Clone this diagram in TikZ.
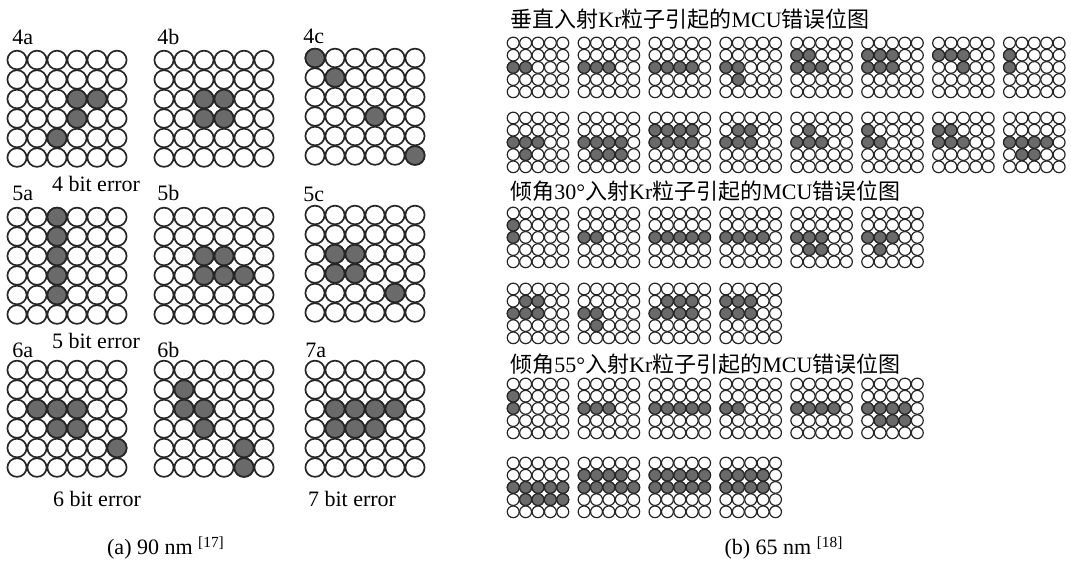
\documentclass[tikz,border=0pt]{standalone}
\usepackage{fontspec}
\setmainfont{Liberation Serif}
\newfontfamily\cjk{Noto Sans CJK SC}
\usepackage{tikz}
\usetikzlibrary{positioning}
\definecolor{errgray}{RGB}{106,106,106}
% one bit map: x, y of first cell, size, x pitch, y pitch, upset cells (row/col)
\newcommand{\mcugrid}[6]{%
  \foreach \r in {1,...,#3}
    \foreach \k in {1,...,#3}
      \draw[bitcell] ({#1+(\k-1)*#4},{#2+(\r-1)*#5}) ellipse[x radius=0.24pt*#4,y radius=0.24pt*#5];
  \foreach \r/\k in {#6}
    \draw[errbit] ({#1+(\k-1)*#4},{#2+(\r-1)*#5}) ellipse[x radius=0.24pt*#4,y radius=0.24pt*#5];
}
\begin{document}
\begin{tikzpicture}[x=0.5pt,y=-0.5pt,
bitcell/.style={draw=black!85,fill=white},
errbit/.style={draw=black!85,fill=errgray},
lbl/.style={font=\fontsize{11}{13}\selectfont,inner sep=0pt},
captext/.style={font=\fontsize{11}{13}\selectfont,inner sep=0pt}]
\useasboundingbox (0,0) rectangle (1071,564);
% (a) 90 nm
\begin{scope}[line width=0.85pt]
\mcugrid{17}{60}{6}{20}{19.5}{3/4,3/5,4/4,5/3}
\mcugrid{164}{60}{6}{20}{19.5}{3/3,3/4,4/3,4/4}
\mcugrid{315}{58}{6}{20}{19.5}{1/1,2/2,4/4,6/6}
\mcugrid{17}{217}{6}{20}{19.5}{1/3,2/3,3/3,4/3,5/3}
\mcugrid{164}{217}{6}{20}{19.5}{3/3,3/4,4/3,4/4,4/5}
\mcugrid{315}{215}{6}{20}{19.5}{3/2,3/3,4/2,4/3,5/5}
\mcugrid{17}{370}{6}{20}{19.5}{3/2,3/3,3/4,4/3,4/4,5/6}
\mcugrid{164}{370}{6}{20}{19.5}{2/2,3/2,3/3,4/3,5/5,6/5}
\mcugrid{315}{370}{6}{20}{19.5}{3/2,3/3,3/4,3/5,4/2,4/3,4/4}
\end{scope}
\node[lbl,anchor=west](l4a) at (12,37){4a};
\node[lbl,anchor=west](l4b) at (157,37){4b};
\node[lbl,anchor=west](l4c) at (303,36){4c};
\node[lbl,anchor=west](l5a) at (12,193){5a};
\node[lbl,anchor=west](l5b) at (157,193){5b};
\node[lbl,anchor=west](l5c) at (303,194){5c};
\node[lbl,anchor=west](l6a) at (12,350){6a};
\node[lbl,anchor=west](l6b) at (157,350){6b};
\node[lbl,anchor=west](l7a) at (305,350){7a};
\node[lbl](e4) at (96,184){4 bit error};
\node[lbl](e5) at (96,341){5 bit error};
\node[lbl](e6) at (97,499){6 bit error};
\node[lbl](e7) at (352,499){7 bit error};
\node[captext](capa) at (166,548){(a) 90 nm \textsuperscript{[17]}};
% (b) 65 nm
\node[lbl,anchor=west](t0) at (510,19){{\cjk 垂直入射}Kr{\cjk 粒子引起的}MCU{\cjk 错误位图}};
\node[lbl,anchor=west](t30) at (510,191){{\cjk 倾角}30°{\cjk 入射}Kr{\cjk 粒子引起的}MCU{\cjk 错误位图}};
\node[lbl,anchor=west](t55) at (510,364){{\cjk 倾角}55°{\cjk 入射}Kr{\cjk 粒子引起的}MCU{\cjk 错误位图}};
\begin{scope}[line width=0.6pt]
% normal incidence
\mcugrid{513.2}{43}{5}{12.4}{12.2}{3/1,3/2}
\mcugrid{584.1}{43}{5}{12.4}{12.2}{3/1,3/2,3/3}
\mcugrid{655.0}{43}{5}{12.4}{12.2}{3/1,3/2,3/3,3/4}
\mcugrid{725.9}{43}{5}{12.4}{12.2}{3/1,3/2,4/2}
\mcugrid{796.8}{43}{5}{12.4}{12.2}{2/1,2/2,3/1,3/2,3/3}
\mcugrid{867.7}{43}{5}{12.4}{12.2}{2/1,2/2,2/3,3/1,3/2,3/3}
\mcugrid{938.6}{43}{5}{12.4}{12.2}{2/1,2/2,2/3,3/3}
\mcugrid{1009.5}{43}{5}{12.4}{12.2}{2/1,3/1}
\mcugrid{513.2}{118}{5}{12.4}{12.2}{3/1,3/2,3/3,4/2}
\mcugrid{584.1}{118}{5}{12.4}{12.2}{3/1,3/2,3/3,3/4,4/2,4/3,4/4}
\mcugrid{655.0}{118}{5}{12.4}{12.2}{2/1,2/2,2/3,2/4,3/1,3/2,3/3,3/4}
\mcugrid{725.9}{118}{5}{12.4}{12.2}{2/2,2/3,3/1,3/2,3/3}
\mcugrid{796.8}{118}{5}{12.4}{12.2}{2/2,3/1,3/2,3/3}
\mcugrid{867.7}{118}{5}{12.4}{12.2}{2/1,3/1,3/2}
\mcugrid{938.6}{118}{5}{12.4}{12.2}{2/1,2/2,3/1,3/2,3/3}
\mcugrid{1009.5}{118}{5}{12.4}{12.2}{3/1,3/2,3/3,3/4,4/2,4/3}
% 30 degrees
\mcugrid{513.2}{213}{5}{12.4}{12.2}{2/1,3/1}
\mcugrid{584.1}{213}{5}{12.4}{12.2}{3/1,3/2}
\mcugrid{655.0}{213}{5}{12.4}{12.2}{3/1,3/2,3/3,3/4,3/5}
\mcugrid{725.9}{213}{5}{12.4}{12.2}{3/1,3/2,3/3,3/4}
\mcugrid{796.8}{213}{5}{12.4}{12.2}{3/1,3/2,3/3,4/2,4/3}
\mcugrid{867.7}{213}{5}{12.4}{12.2}{3/1,3/2,3/3,4/2}
\mcugrid{513.2}{289}{5}{12.4}{12.2}{2/2,2/3,3/1,3/2,3/3}
\mcugrid{584.1}{289}{5}{12.4}{12.2}{3/1,3/2,4/2}
\mcugrid{655.0}{289}{5}{12.4}{12.2}{2/2,2/3,2/4,3/1,3/2,3/3,3/4}
\mcugrid{725.9}{289}{5}{12.4}{12.2}{2/1,2/2,2/3,3/1,3/2,3/3}
% 55 degrees
\mcugrid{513.2}{384}{5}{12.4}{12.2}{2/1,3/1}
\mcugrid{584.1}{384}{5}{12.4}{12.2}{3/1,3/2,3/3}
\mcugrid{655.0}{384}{5}{12.4}{12.2}{3/1,3/2,3/3,3/4,3/5}
\mcugrid{725.9}{384}{5}{12.4}{12.2}{3/1,3/2}
\mcugrid{796.8}{384}{5}{12.4}{12.2}{3/1,3/2,3/3,3/4}
\mcugrid{867.7}{384}{5}{12.4}{12.2}{3/1,3/2,3/3,3/4,4/2,4/3,4/4}
\mcugrid{513.2}{463}{5}{12.4}{12.2}{3/1,3/2,3/3,3/4,3/5,4/2,4/3,4/4,4/5}
\mcugrid{584.1}{463}{5}{12.4}{12.2}{2/1,2/2,2/3,2/4,3/1,3/2,3/3,3/4,3/5}
\mcugrid{655.0}{463}{5}{12.4}{12.2}{2/1,2/2,2/3,2/4,2/5,3/1,3/2,3/3,3/4,3/5}
\mcugrid{725.9}{463}{5}{12.4}{12.2}{2/1,2/2,2/3,2/4,3/1,3/2,3/3,3/4}
\end{scope}
\node[captext](capb) at (784,548){(b) 65 nm \textsuperscript{[18]}};
\end{tikzpicture}
\end{document}
